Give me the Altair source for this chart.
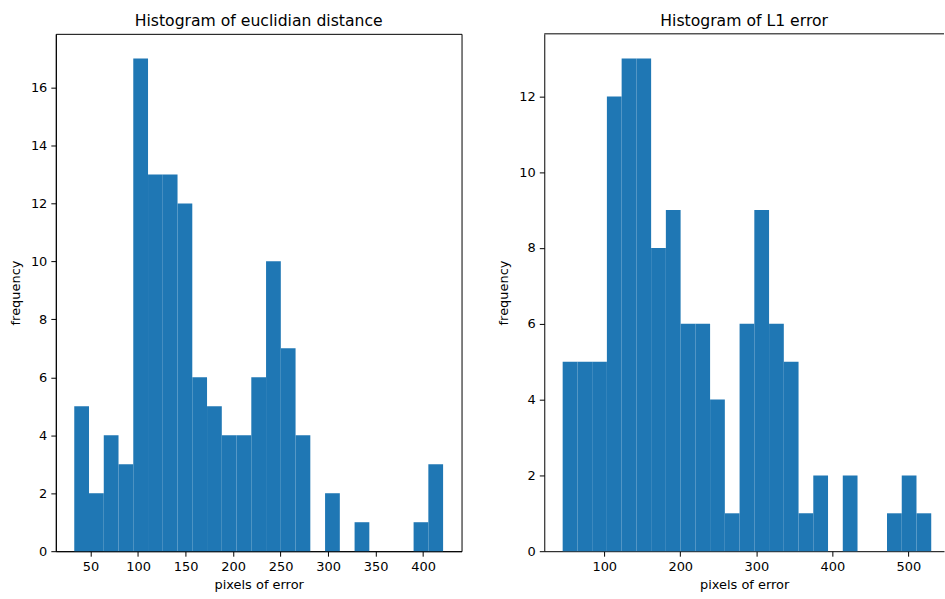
import altair as alt
import numpy as np
import pandas as pd

# Histogram counts
left_counts = [5, 2, 4, 3, 17, 13, 13, 12, 6, 5, 4, 4, 6, 10, 7, 4, 0, 2, 0, 1, 0, 0, 0, 1, 3]
left_range = [32.9, 421.0]
right_counts = [5, 5, 5, 12, 13, 13, 8, 9, 6, 6, 4, 1, 6, 9, 6, 5, 1, 2, 0, 2, 0, 0, 1, 2, 1]
right_range = [45.3, 530.2]

left_xticks = [50, 100, 150, 200, 250, 300, 350, 400]
left_yticks = [0, 2, 4, 6, 8, 10, 12, 14, 16]
right_xticks = [100, 200, 300, 400, 500]
right_yticks = [0, 2, 4, 6, 8, 10, 12]

FONT = "DejaVu Sans"
BLUE = "#1f77b4"


def make_df(counts, rng):
    edges = np.linspace(rng[0], rng[1], len(counts) + 1)
    return pd.DataFrame({"start": edges[:-1], "end": edges[1:], "count": counts})


def hist(counts, rng, xdom, ydom, xticks, yticks):
    df = make_df(counts, rng)
    df = df[df["count"] > 0]
    bars = alt.Chart(df).mark_bar(color=BLUE, opacity=1).encode(
        x=alt.X("start:Q", scale=alt.Scale(domain=xdom, nice=False, zero=False),
                axis=alt.Axis(values=xticks, title="pixels of error", format="d")),
        x2="end:Q",
        y=alt.Y("count:Q", scale=alt.Scale(domain=ydom, nice=False),
                axis=alt.Axis(values=yticks, title="frequency", format="d")),
        y2=alt.datum(0),
    )
    return bars


def title(text):
    return alt.TitleParams(text, font=FONT, fontSize=15.7, fontWeight="normal",
                           anchor="middle", baseline="alphabetic", offset=-8,
                           color="black")


lbars = hist(left_counts, left_range, [13.5, 440.4], [0, 17.85],
             left_xticks, left_yticks)
left = lbars.properties(
    width=407, height=519,
    title=title("Histogram of euclidian distance"),
    view=alt.ViewBackground(stroke="black", strokeWidth=1),
)

rbars = hist(right_counts, right_range, [21.1, 547.0], [0, 13.65],
             right_xticks, right_yticks)
top_line = alt.Chart(pd.DataFrame({"top": [13.65]})).mark_rule(
    color="black", strokeWidth=1).encode(
    y=alt.Y("top:Q", title="frequency"))
right = alt.layer(rbars, top_line).properties(
    width=401, height=519,
    title=title("Histogram of L1 error"),
    view=alt.ViewBackground(stroke=None),
)

chart = alt.hconcat(left, right, spacing=35).properties(
    padding={"left": 8, "top": 11, "right": 0, "bottom": 5},
    background="white",
).configure_axis(
    labelFont=FONT, titleFont=FONT, labelFontSize=13, titleFontSize=13,
    titleFontWeight="normal", labelColor="black", titleColor="black",
    grid=False, domainColor="black", domainWidth=1, tickColor="black",
    tickSize=5, tickWidth=1, labelPadding=4, titlePadding=5,
).configure_axisY(titlePadding=8).configure_view(stroke="black")

chart.save("out.html", embed_options={"renderer": "svg", "actions": False})
